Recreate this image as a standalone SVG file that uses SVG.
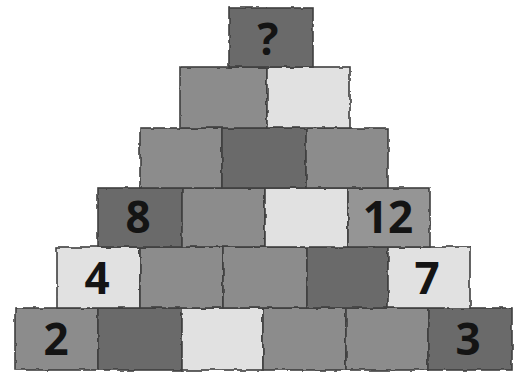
<svg xmlns="http://www.w3.org/2000/svg" width="525" height="388" viewBox="0 0 525 388">
<defs>
<filter id="rough" x="-5%" y="-5%" width="110%" height="110%">
<feTurbulence type="fractalNoise" baseFrequency="0.09" numOctaves="2" seed="3" result="n"/>
<feDisplacementMap in="SourceGraphic" in2="n" scale="3.5" xChannelSelector="R" yChannelSelector="G"/>
</filter>
<style>
.b{stroke:#3e3e3e;stroke-width:1.6;filter:url(#rough)}
.l{fill:#e1e1e1}
.m{fill:#8c8c8c}
.m2{fill:#959595}
.d{fill:#6b6b6b}
.t{font-family:"Open Sans","Noto Sans","DejaVu Sans",sans-serif;font-weight:700;font-size:44px;fill:#141414;text-anchor:middle;dominant-baseline:central}
</style>
</defs>
<rect width="525" height="388" fill="#ffffff"/>
<g id="r6">
<g id="b6-1"><rect class="b m" x="15" y="308" width="83" height="62"/><text class="t" x="56" y="338">2</text></g>
<g id="b6-2"><rect class="b d" x="98" y="308" width="84" height="62"/></g>
<g id="b6-3"><rect class="b l" x="182" y="308" width="81" height="62"/></g>
<g id="b6-4"><rect class="b m" x="263" y="308" width="83" height="62"/></g>
<g id="b6-5"><rect class="b m" x="346" y="308" width="82" height="62"/></g>
<g id="b6-6"><rect class="b d" x="428" y="308" width="84" height="62"/><text class="t" x="468" y="338">3</text></g>
</g>
<g id="r5">
<g id="b5-1"><rect class="b l" x="57" y="247" width="83" height="61"/><text class="t" x="97" y="277">4</text></g>
<g id="b5-2"><rect class="b m" x="140" y="247" width="83" height="61"/></g>
<g id="b5-3"><rect class="b m" x="223" y="247" width="84" height="61"/></g>
<g id="b5-4"><rect class="b d" x="307" y="247" width="81" height="61"/></g>
<g id="b5-5"><rect class="b l" x="388" y="247" width="82" height="61"/><text class="t" x="427" y="277">7</text></g>
</g>
<g id="r4">
<g id="b4-1"><rect class="b d" x="98" y="188" width="84" height="59"/><text class="t" x="138" y="216">8</text></g>
<g id="b4-2"><rect class="b m" x="182" y="188" width="83" height="59"/></g>
<g id="b4-3"><rect class="b l" x="265" y="188" width="83" height="59"/></g>
<g id="b4-4"><rect class="b m2" x="348" y="188" width="82" height="59"/><text class="t" x="388" y="216">12</text></g>
</g>
<g id="r3">
<g id="b3-1"><rect class="b m" x="140" y="128" width="82" height="60"/></g>
<g id="b3-2"><rect class="b d" x="222" y="128" width="84" height="60"/></g>
<g id="b3-3"><rect class="b m" x="306" y="128" width="82" height="60"/></g>
</g>
<g id="r2">
<g id="b2-1"><rect class="b m" x="180" y="67" width="87" height="61"/></g>
<g id="b2-2"><rect class="b l" x="267" y="67" width="83" height="61"/></g>
</g>
<g id="top">
<g id="b1"><rect class="b d" x="229" y="8" width="84" height="59"/><text class="t" x="268" y="38">?</text></g>
</g>
</svg>
